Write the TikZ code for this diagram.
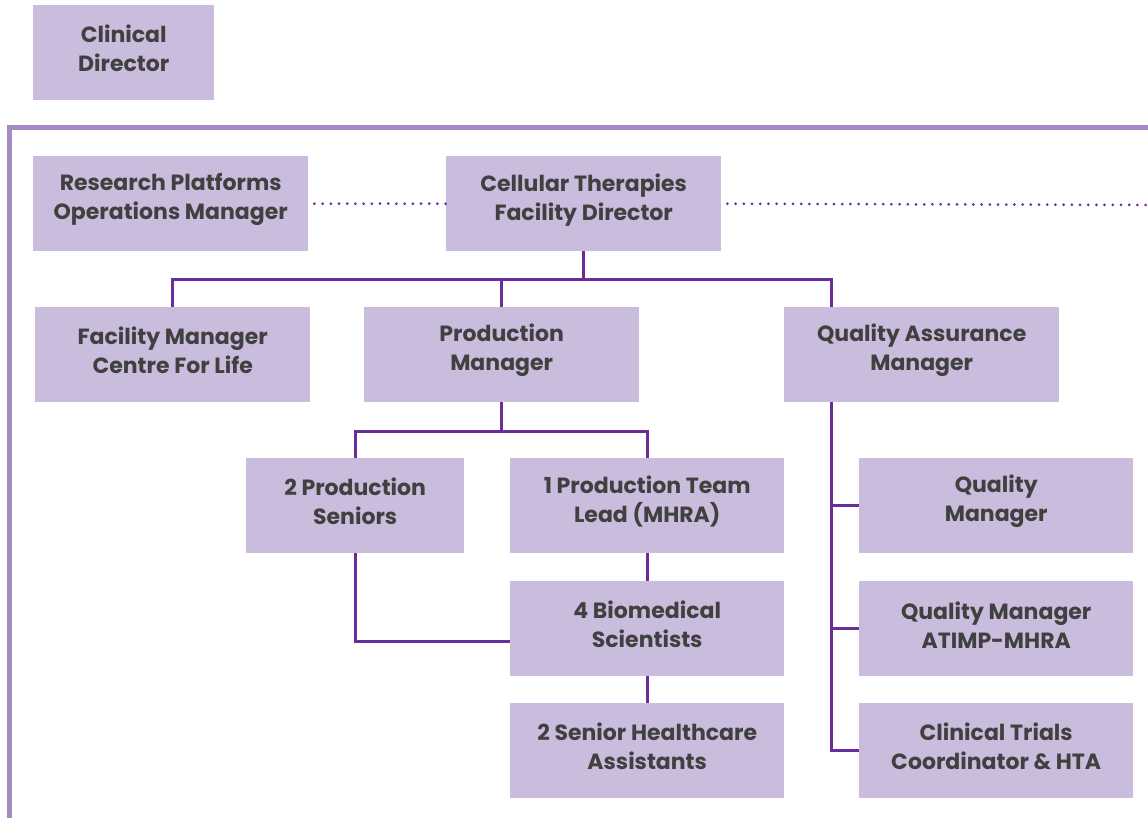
\documentclass[tikz,border=0pt]{standalone}
\usepackage{fontspec}
\setmainfont{Poppins}
\definecolor{boxfill}{HTML}{C9BCDC}
\definecolor{frame}{HTML}{A68BC3}
\definecolor{conn}{HTML}{6A2E9A}
\definecolor{txtc}{HTML}{404040}
\begin{document}
\begin{tikzpicture}[x=1pt,y=-1pt,
  box/.style={fill=boxfill, draw=none, inner sep=0pt, anchor=north west},
  txt/.style={font=\fontsize{22}{29}\selectfont\bfseries, text=txtc, align=center, yshift=4pt},
  conline/.style={draw=conn, line width=2.6pt},
  dotline/.style={draw=conn, line width=3pt, line cap=round, dash pattern=on 0pt off 8.2pt}]
\useasboundingbox (0,0) rectangle (1148,818);
% frame
\draw[frame, line width=5pt] (9,818) -- (9,128) -- (1148,128);
% boxes
\newcommand{\orgbox}[6]{%
  \node[box, minimum width=#4pt, minimum height=#5pt,
    label={[txt]center:{#6}}] (#1) at (#2,#3) {};}
\orgbox{cd}{33}{5}{181}{95}{Clinical\\Director}
\orgbox{rp}{33}{156}{275}{95}{Research Platforms\\Operations Manager}
\orgbox{ct}{446}{156}{275}{95}{Cellular Therapies\\Facility Director}
\orgbox{fm}{35}{307}{275}{95}{Facility Manager\\Centre For Life}
\orgbox{pm}{364}{307}{275}{95}{Production\\Manager}
\orgbox{qa}{784}{307}{275}{95}{Quality Assurance\\Manager}
\orgbox{ps}{246}{458}{218}{95}{2 Production\\Seniors}
\orgbox{tl}{510}{458}{274}{95}{1 Production Team\\Lead (MHRA)}
\orgbox{bs}{510}{581}{274}{95}{4 Biomedical\\Scientists}
\orgbox{ha}{510}{703}{274}{95}{2 Senior Healthcare\\Assistants}
\orgbox{qm}{859}{458}{274}{95}{Quality\\Manager}
\orgbox{qx}{859}{581}{274}{95}{Quality Manager\\ATIMP-MHRA}
\orgbox{cc}{859}{703}{274}{95}{Clinical Trials\\Coordinator \& HTA}
\coordinate (rightend) at (1148,205);
% dotted links
\draw[dotline] ([xshift=6pt]rp.east) -- (ct.west);
\draw[dotline] ([xshift=6pt]ct.east) -- (rightend);
% connectors
\draw[conline] (ct.south) -- ++(0,28) coordinate (j1);
\draw[conline] (fm.north) |- (j1) -| ([xshift=-90.5pt]qa.north);
\draw[conline] (pm.north) -- ++(0,-28);
\draw[conline] (pm.south) -- ++(0,29) coordinate (j2);
\draw[conline] (ps.north) |- (j2) -| (tl.north);
\draw[conline] (tl.south) -- (bs.north);
\draw[conline] (bs.south) -- (ha.north);
\draw[conline] (ps.south) |- ([yshift=-12.5pt]bs.west);
\draw[conline] ([xshift=-90.5pt]qa.south) |- (cc.west);
\draw[conline] ([xshift=-90.5pt]qa.south) |- (qm.west);
\draw[conline] ([xshift=-90.5pt]qa.south) |- (qx.west);
\end{tikzpicture}
\end{document}
